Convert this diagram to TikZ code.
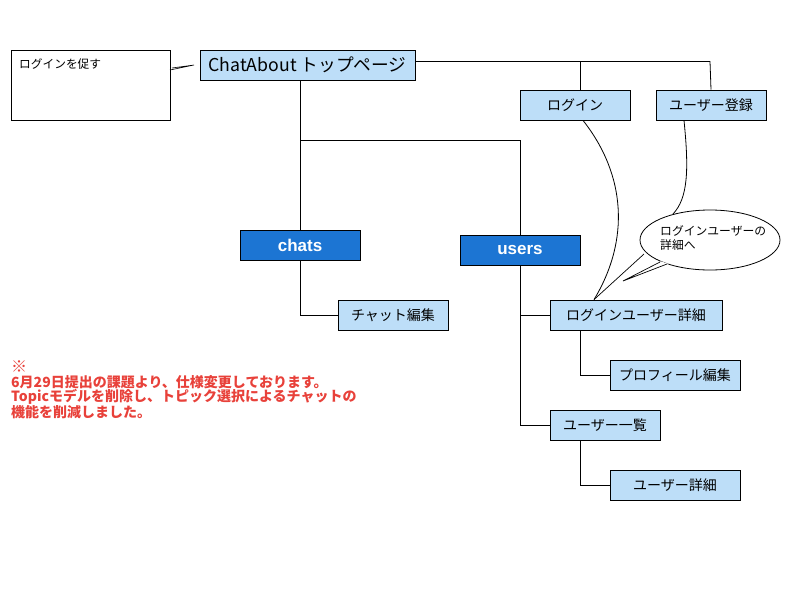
\documentclass[tikz,border=0pt]{standalone}
\usepackage{fontspec}
\setmainfont{Noto Sans CJK JP}
\newfontfamily\latinbold{Liberation Sans}
\usetikzlibrary{positioning}
\definecolor{lightbox}{HTML}{BDDEF8}
\definecolor{darkbox}{HTML}{1C75D3}
\definecolor{notered}{HTML}{E8413A}
\tikzset{
  lbox/.style={draw=black, fill=lightbox, line width=0.8pt, inner sep=0pt, font=\fontsize{14}{16}\selectfont},
  dbox/.style={draw=black, fill=darkbox, line width=0.8pt, inner sep=0pt, text=white, font=\latinbold\bfseries\fontsize{17}{19}\selectfont},
  conn/.style={draw=black, line width=0.8pt},
}
\begin{document}
\begin{tikzpicture}[x=1pt,y=-1pt]
\useasboundingbox (0,0) rectangle (800,600);
% callout rectangle
\node[draw=black, line width=0.8pt, minimum width=159pt, minimum height=70pt, inner sep=0pt] (prompt) at (90.5,85) {};
\node[anchor=north west, inner sep=0pt, font=\fontsize{11.7}{13}\selectfont] (prompttxt) at (19,58) {ログインを促す};
% main boxes
\node[lbox, minimum width=215pt, minimum height=30pt, font=\fontsize{17.7}{20}\selectfont] (top) at (307.5,65) {ChatAbout トップページ};
\node[lbox, minimum width=110pt, minimum height=30pt] (login) at (575,105) {ログイン};
\node[lbox, minimum width=110pt, minimum height=30pt] (reg) at (711,105) {ユーザー登録};
\node[dbox, minimum width=120pt, minimum height=30pt] (chats) at (300,245) {chats};
\node[dbox, minimum width=120pt, minimum height=30pt] (users) at (520,250) {users};
\node[lbox, minimum width=110pt, minimum height=30pt] (chatedit) at (393,315) {チャット編集};
\node[lbox, minimum width=172pt, minimum height=30pt] (ludetail) at (636,315) {ログインユーザー詳細};
\node[lbox, minimum width=130pt, minimum height=30pt] (profedit) at (675,375) {プロフィール編集};
\node[lbox, minimum width=110pt, minimum height=30pt] (ulist) at (605,425) {ユーザー一覧};
\node[lbox, minimum width=130pt, minimum height=30pt] (udetail) at (675,485) {ユーザー詳細};
% callout tail to top box
\draw[conn, line width=0.6pt] (170,70) -- (194,65) -- (172,68);
% tree connectors
\coordinate (j1) at (300,140);
\coordinate (j2) at (520,140);
\draw[conn] (top.east |- 0,61.5) -- (710,61.5) -- (reg.north);
\draw[conn] (580,61.5) -- (login.north -| 580,0);
\draw[conn] (top.south -| 300,0) -- (chats.north);
\draw[conn] (j1) -- (j2) -- (users.north);
\draw[conn] (chats.south) |- (chatedit.west);
\draw[conn] (users.south) |- (ludetail.west);
\draw[conn] (users.south) |- (ulist.west);
\draw[conn] (ludetail.south -| 580,0) |- (profedit.west);
\draw[conn] (ulist.south -| 580,0) |- (udetail.west);
% ellipse callout
\node[draw=black, line width=0.8pt, circle, inner sep=0pt, minimum size=60pt, xscale=140/60] (bubble) at (710,240) {};
\draw[fill=white, draw=white, line width=1.2pt] (661,262) -- (623,281) -- (667,264) -- cycle;
\draw[conn, line width=0.7pt] (660,262) -- (623,281) -- (667,264);
\node[anchor=north west, inner sep=0pt, align=left, font=\fontsize{11.8}{14}\selectfont] (bubbletxt) at (660,225.5) {ログインユーザーの\\詳細へ};
% curves
\draw[conn] (login.south -| 583,0) .. controls (626,175) and (630,240) .. (ludetail.north -| 594,0);
\draw[conn] (reg.south -| 684,0) .. controls (689,170) and (688,198) .. (673,214);
\draw[conn, line width=0.7pt] (644,254) -- (ludetail.north -| 594,0);
% note
\node[anchor=north west, inner sep=0pt, align=left, text=notered, font=\bfseries\fontsize{14}{14.5}\selectfont] (note) at (11,360.5) {{\fontsize{16}{14.5}\selectfont ※}\\6月29日提出の課題より、仕様変更しております。\\Topicモデルを削除し、トピック選択によるチャットの\\機能を削減しました。};
\end{tikzpicture}
\end{document}
